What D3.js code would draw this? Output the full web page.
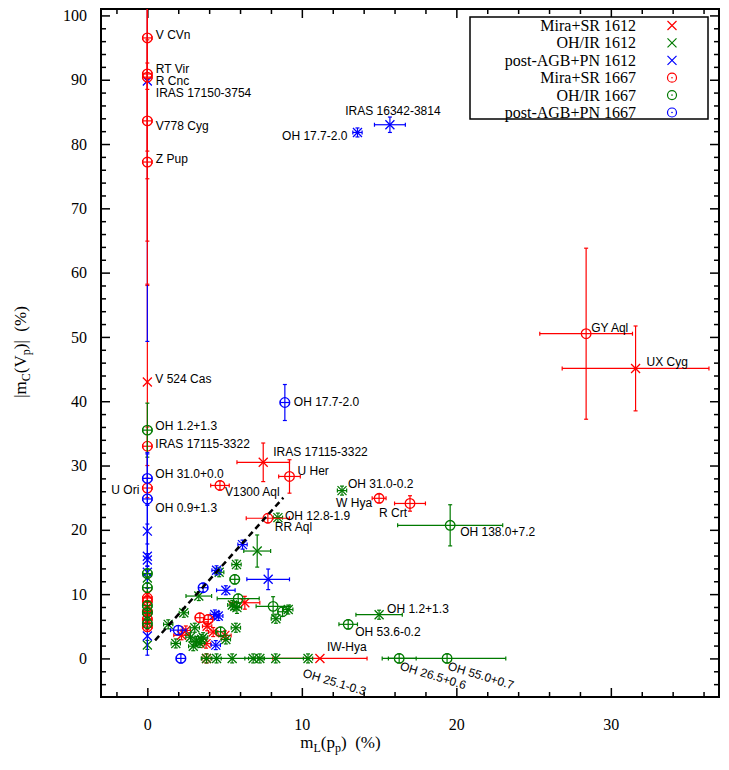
<!DOCTYPE html>
<html>
<head>
<meta charset="utf-8">
<script src="https://cdn.jsdelivr.net/npm/d3@7"></script>
<style>
  body { margin: 0; background: #fff; }
</style>
</head>
<body>
<div id="chart"></div>
<script>
// each row: [x, y, xerr, yerr, label]
const miraSR1612 = [
    [0, 43.0, 0, 15, 'V 524 Cas'],
    [7.5, 30.5, 1.7, 3.0, 'IRAS 17115-3322'],
    [31.6, 45.1, 4.75, 6.6, 'UX Cyg'],
    [11.17, 0, 3.05, 0, 'IW-Hya'],
    [6.31, 8.66, 0.97, 1.0],
    [3.87, 5.0, 0.3, 0.7],
    [2.21, 3.6, 0.5, 0.7],
    [5.02, 3.58, 0.4, 0.7],
    [4.26, 4.1, 0.3, 0.7],
    [3.8, 2.3, 0.3, 0.7],
    [3.83, 0, 0.3, 0.7],
    [2.49, 4.35, 0.3, 0.7],
    [0, 10.0, 0, 1.0],
    [0, 8.0, 0, 1.0],
    [0, 5.5, 0, 1.0]
];

const ohir1612 = [
    [12.6, 26.1, 0.3, 0.7, 'OH 31.0-0.2'],
    [8.45, 21.9, 0.3, 0.7, 'OH 12.8-1.9'],
    [15.0, 6.8, 1.5, 0.7, 'OH 1.2+1.3'],
    [10.4, 0, 0.3, 0.7, 'OH 25.1-0.3'],
    [7.11, 16.7, 0.87, 2.5],
    [5.77, 14.6, 0.3, 0.7],
    [4.65, 13.4, 0.3, 0.7],
    [3.33, 9.7, 0.83, 0.7],
    [5.66, 8.1, 0.3, 0.7],
    [5.8, 7.9, 0.3, 0.9],
    [5.5, 8.3, 0.3, 0.7],
    [9.12, 7.6, 0.3, 0.7],
    [8.32, 6.17, 0.3, 0.7],
    [2.36, 7.1, 0.3, 0.7],
    [1.35, 5.3, 0.3, 0.7],
    [3.07, 4.77, 0.3, 0.7],
    [5.73, 4.77, 0.3, 0.7],
    [5.08, 2.95, 0.3, 0.7],
    [3.18, 2.7, 0.3, 0.7],
    [2.79, 3.3, 0.3, 0.7],
    [3.4, 2.4, 0.3, 0.7],
    [3.61, 3.3, 0.3, 0.7],
    [2.97, 1.9, 0.3, 0.7],
    [3.5, 3.0, 0.3, 0.7],
    [1.84, 2.33, 0.3, 0.7],
    [0, 2.1, 0, 0.7],
    [0, 12.5, 0, 0.7],
    [0, 6.6, 0, 0.7],
    [3.83, 0, 0.3, 0.7],
    [4.48, 0, 0.3, 0.7],
    [5.49, 0, 2.0, 0.7],
    [6.85, 0, 0.3, 0.7],
    [7.28, 0, 0.3, 0.7],
    [8.31, 0, 2.0, 0.7]
];

const postAGB1612 = [
    [0, 89.8, 0, 40.5, 'IRAS 17150-3754'],
    [15.7, 83.0, 1.0, 1.2, 'IRAS 16342-3814'],
    [13.6, 81.8, 0.3, 0.7, 'OH 17.7-2.0'],
    [6.16, 17.7, 0.3, 0.7],
    [7.82, 12.3, 1.38, 1.6],
    [4.48, 13.7, 0.3, 0.7],
    [5.08, 10.6, 0.6, 0.7],
    [4.37, 6.84, 0.3, 0.7],
    [4.59, 6.6, 0.3, 0.7],
    [4.43, 2.07, 0.3, 0.7],
    [0, 19.8, 0, 4.0],
    [0, 15.9, 0, 5.0],
    [0, 15.3, 0, 1.0],
    [0, 13.4, 0, 1.0],
    [0, 3.5, 0, 3.0]
];

const miraSR1667 = [
    [0, 96.5, 0.3, 8, 'V CVn'],
    [0, 90.9, 0.3, 12, 'RT Vir'],
    [0, 90.4, 0.3, 25.5, 'R Cnc'],
    [0, 83.6, 0.3, 9, 'V778 Cyg'],
    [0, 77.2, 0.3, 19, 'Z Pup'],
    [0, 33.0, 0.3, 3, 'IRAS 17115-3322'],
    [0, 26.5, 0.3, 1.5, 'U Ori'],
    [4.7, 26.9, 0.6, 0.7, 'V1300 Aql'],
    [9.2, 28.3, 0.7, 2.6, 'U Her'],
    [28.4, 50.5, 3.0, 13.3, 'GY Aql'],
    [17.0, 24.1, 1.0, 1.2, 'R Crt'],
    [15.0, 24.9, 0.45, 0.7, 'W Hya'],
    [7.8, 21.8, 1.4, 0.7, 'RR Aql'],
    [3.4, 6.33, 0.3, 0.7],
    [3.94, 6.07, 0.3, 0.7],
    [0, 9.4, 0.3, 0.7],
    [0, 8.9, 0.3, 0.7],
    [0, 7.3, 0.3, 0.7],
    [0, 6.1, 0.3, 0.7],
    [0, 4.9, 0.3, 0.7]
];

const ohir1667 = [
    [0, 35.5, 0.3, 4.2, 'OH 1.2+1.3'],
    [19.6, 20.7, 3.4, 3.2, 'OH 138.0+7.2'],
    [13.0, 5.3, 0.6, 0.7, 'OH 53.6-0.2'],
    [16.3, 0, 1.1, 0.7, 'OH 26.5+0.6'],
    [19.4, 0, 3.8, 0.7, 'OH 55.0+0.7'],
    [5.66, 12.3, 0.3, 0.7],
    [5.88, 9.3, 1.36, 0.7],
    [8.14, 8.1, 1.1, 1.5],
    [8.75, 7.26, 0.3, 0.7],
    [4.74, 4.15, 0.3, 0.7],
    [0, 13.2, 0.3, 0.7],
    [0, 11.0, 0.3, 0.7],
    [0, 8.2, 0.3, 0.7],
    [0, 7.1, 0.3, 0.7],
    [0, 5.4, 0.3, 0.7]
];

const postAGB1667 = [
    [8.9, 39.8, 0.3, 2.8, 'OH 17.7-2.0'],
    [0, 28.0, 0.3, 4, 'OH 31.0+0.0'],
    [0, 24.8, 0.3, 7, 'OH 0.9+1.3'],
    [3.61, 11.0, 0.3, 0.7],
    [2.0, 4.4, 0.5, 0.7],
    [2.17, 0, 0.3, 0.7]
];

// dashed guide line
const guideX = [0.5, 8.8];
const guideY = [2.8, 25.0];

const xMajorTicks = [0, 10, 20, 30];
const yMajorTicks = [0, 10, 20, 30, 40, 50, 60, 70, 80, 90, 100];

const series = [
    { key: 'm12', name: 'Mira+SR 1612', data: miraSR1612, color: '#ff0000', shape: 'x' },
    { key: 'o12', name: 'OH/IR 1612', data: ohir1612, color: '#007a00', shape: 'x' },
    { key: 'p12', name: 'post-AGB+PN 1612', data: postAGB1612, color: '#0000ff', shape: 'x' },
    { key: 'm67', name: 'Mira+SR 1667', data: miraSR1667, color: '#ff0000', shape: 'o' },
    { key: 'o67', name: 'OH/IR 1667', data: ohir1667, color: '#007a00', shape: 'o' },
    { key: 'p67', name: 'post-AGB+PN 1667', data: postAGB1667, color: '#0000ff', shape: 'o' }
];

// label placement [dx, dy, anchor, rotation]
const labelPos = {
    'm12|V 524 Cas': [8, 1, 'start', 0],
    'm12|IRAS 17115-3322': [10, -6, 'start', 0],
    'm12|UX Cyg': [11, -2, 'start', 0],
    'm12|IW-Hya': [7, -7, 'start', 0],
    'o12|OH 31.0-0.2': [6, -3, 'start', 0],
    'o12|OH 12.8-1.9': [7, 2, 'start', 0],
    'o12|OH 1.2+1.3': [8, -2, 'start', 0],
    'o12|OH 25.1-0.3': [-6, 18, 'start', 17],
    'p12|IRAS 17150-3754': [8.5, 16, 'start', 0],
    'p12|IRAS 16342-3814': [3, -10, 'middle', 0],
    'p12|OH 17.7-2.0': [-10, 8, 'end', 0],
    'm67|V CVn': [8.5, 1, 'start', 0],
    'm67|RT Vir': [8.5, -1, 'start', 0],
    'm67|R Cnc': [8.5, 8, 'start', 0],
    'm67|V778 Cyg': [8.5, 9, 'start', 0],
    'm67|Z Pup': [8.5, 1, 'start', 0],
    'm67|IRAS 17115-3322': [8, 2, 'start', 0],
    'm67|U Ori': [-8, 6, 'end', 0],
    'm67|V1300 Aql': [5, 11, 'start', 0],
    'm67|U Her': [8, -1, 'start', 0],
    'm67|GY Aql': [5, -2, 'start', 0],
    'm67|R Crt': [-3, 14, 'end', 0],
    'm67|W Hya': [-7, 9, 'end', 0],
    'm67|RR Aql': [7, 13, 'start', 0],
    'o67|OH 1.2+1.3': [8, 0, 'start', 0],
    'o67|OH 138.0+7.2': [10, 11, 'start', 0],
    'o67|OH 53.6-0.2': [7, 12, 'start', 0],
    'o67|OH 26.5+0.6': [0, 11, 'start', 17],
    'o67|OH 55.0+0.7': [0, 11, 'start', 17],
    'p67|OH 17.7-2.0': [9, 3, 'start', 0],
    'p67|OH 31.0+0.0': [8, 0, 'start', 0],
    'p67|OH 0.9+1.3': [8, 13, 'start', 0]
};

const width = 729, height = 770;
const margin = { left: 101, right: 10, top: 9, bottom: 73 };
const plotW = width - margin.left - margin.right;
const plotH = height - margin.top - margin.bottom;

const svg = d3.select('#chart').append('svg')
    .attr('width', width)
    .attr('height', height)
    .style('display', 'block')
    .style('background', '#fff');

const x = d3.scaleLinear().domain([-3, 37]).range([0, plotW]);
const y = d3.scaleLinear().domain([-6, 101]).range([plotH, 0]);

const g = svg.append('g').attr('transform', `translate(${margin.left},${margin.top})`);

svg.append('defs').append('clipPath').attr('id', 'clip')
    .append('rect').attr('width', plotW).attr('height', plotH);

const serif = 'Liberation Serif, Times New Roman, serif';
const sans = 'Liberation Sans, Arial, Helvetica, sans-serif';

// ticks (inside, on all four sides)
const xMinor = d3.range(-2, 37, 2).filter(v => !xMajorTicks.includes(v));
const yMinor = d3.range(-4, 101, 2).filter(v => !yMajorTicks.includes(v));

function tickAxis(axisFn, scale, values, size, labels) {
    const a = axisFn(scale).tickValues(values).tickSize(-size).tickSizeOuter(0);
    if (!labels) a.tickFormat('');
    return a;
}

const xb = g.append('g').attr('transform', `translate(0,${plotH})`);
xb.call(tickAxis(d3.axisBottom, x, xMajorTicks, 9, true).tickPadding(22));
xb.append('g').call(tickAxis(d3.axisBottom, x, xMinor, 5, false));
const xt = g.append('g');
xt.call(tickAxis(d3.axisTop, x, xMajorTicks, 9, false));
xt.append('g').call(tickAxis(d3.axisTop, x, xMinor, 5, false));
const yl = g.append('g');
yl.call(tickAxis(d3.axisLeft, y, yMajorTicks, 9, true).tickPadding(14));
yl.append('g').call(tickAxis(d3.axisLeft, y, yMinor, 5, false));
const yr = g.append('g').attr('transform', `translate(${plotW},0)`);
yr.call(tickAxis(d3.axisRight, y, yMajorTicks, 9, false));
yr.append('g').call(tickAxis(d3.axisRight, y, yMinor, 5, false));

g.selectAll('.domain').remove();
g.selectAll('.tick line').attr('stroke', '#000').attr('stroke-width', 1.5);
g.selectAll('.tick text')
    .style('font-family', serif)
    .style('font-size', '16px')
    .attr('fill', '#000');

// frame
g.append('rect')
    .attr('width', plotW)
    .attr('height', plotH)
    .attr('fill', 'none')
    .attr('stroke', '#000')
    .attr('stroke-width', 2);

const plot = g.append('g').attr('clip-path', 'url(#clip)');

// points with error bars, drawn series by series
const cap = 2;
series.forEach(s => {
    const grp = plot.append('g').attr('class', 'series-' + s.key)
        .attr('stroke', s.color).attr('fill', 'none');
    s.data.forEach(d => {
        const [vx, vy, xe, ye] = d;
        const px = x(vx), py = y(vy);
        if (xe > 0) {
            const x0 = x(vx - xe), x1 = x(vx + xe);
            grp.append('line').attr('x1', x0).attr('x2', x1).attr('y1', py).attr('y2', py).attr('stroke-width', 1.2);
            grp.append('line').attr('x1', x0).attr('x2', x0).attr('y1', py - cap).attr('y2', py + cap).attr('stroke-width', 1.2);
            grp.append('line').attr('x1', x1).attr('x2', x1).attr('y1', py - cap).attr('y2', py + cap).attr('stroke-width', 1.2);
        }
        if (ye > 0) {
            const y0 = y(vy - ye), y1 = y(vy + ye);
            grp.append('line').attr('x1', px).attr('x2', px).attr('y1', y0).attr('y2', y1).attr('stroke-width', 1.2);
            grp.append('line').attr('x1', px - cap).attr('x2', px + cap).attr('y1', y0).attr('y2', y0).attr('stroke-width', 1.2);
            grp.append('line').attr('x1', px - cap).attr('x2', px + cap).attr('y1', y1).attr('y2', y1).attr('stroke-width', 1.2);
        }
        if (s.shape === 'x') {
            const r = 4.5;
            grp.append('path')
                .attr('d', `M${px - r},${py - r}L${px + r},${py + r}M${px - r},${py + r}L${px + r},${py - r}`)
                .attr('stroke-width', 1.3);
        } else {
            grp.append('circle').attr('cx', px).attr('cy', py).attr('r', 4.8).attr('stroke-width', 1.3);
        }
    });
});

// dashed guide line
plot.append('line')
    .attr('x1', x(guideX[0])).attr('y1', y(guideY[0]))
    .attr('x2', x(guideX[1])).attr('y2', y(guideY[1]))
    .attr('stroke', '#000')
    .attr('stroke-width', 2.5)
    .attr('stroke-dasharray', '6,4');

// source labels
const labels = g.append('g')
    .style('font-family', sans)
    .style('font-size', '12px')
    .attr('fill', '#000');
series.forEach(s => {
    s.data.filter(d => d[4]).forEach(d => {
        const pos = labelPos[s.key + '|' + d[4]] || [8, 4, 'start', 0];
        const tx = x(d[0]) + pos[0], ty = y(d[1]) + pos[1];
        labels.append('text')
            .attr('transform', `translate(${tx},${ty}) rotate(${pos[3]})`)
            .attr('text-anchor', pos[2])
            .text(d[4]);
    });
});

// legend
const legend = svg.append('g').attr('transform', 'translate(470,17)');
legend.append('rect')
    .attr('width', 238)
    .attr('height', 102)
    .attr('fill', '#fff')
    .attr('stroke', '#000')
    .attr('stroke-width', 1.5);
series.forEach((s, i) => {
    const ly = 8.5 + i * 17.4;
    legend.append('text')
        .attr('x', 166)
        .attr('y', ly + 5.5)
        .attr('text-anchor', 'end')
        .style('font-family', serif)
        .style('font-size', '16px')
        .attr('fill', '#000')
        .text(s.name);
    if (s.shape === 'x') {
        const r = 4.5, cx = 202;
        legend.append('path')
            .attr('d', `M${cx - r},${ly - r}L${cx + r},${ly + r}M${cx - r},${ly + r}L${cx + r},${ly - r}`)
            .attr('stroke', s.color).attr('stroke-width', 1.2).attr('fill', 'none');
    } else {
        legend.append('circle').attr('cx', 202).attr('cy', ly).attr('r', 4.5)
            .attr('stroke', s.color).attr('stroke-width', 1.2).attr('fill', 'none');
        legend.append('circle').attr('cx', 202).attr('cy', ly).attr('r', 0.8).attr('fill', s.color);
    }
});

// axis titles
const xTitle = svg.append('text')
    .attr('x', margin.left + x(12.5))
    .attr('y', 748)
    .attr('text-anchor', 'middle')
    .style('font-family', serif)
    .style('font-size', '17px')
    .attr('fill', '#000');
xTitle.append('tspan').text('m');
xTitle.append('tspan').attr('dy', 4).style('font-size', '12px').text('L');
xTitle.append('tspan').attr('dy', -4).text('(p');
xTitle.append('tspan').attr('dy', 4).style('font-size', '12px').text('p');
xTitle.append('tspan').attr('dy', -4).text(')\u00a0\u00a0(%)');

const yTitle = svg.append('text')
    .attr('transform', 'translate(26,352) rotate(-90)')
    .attr('text-anchor', 'middle')
    .style('font-family', serif)
    .style('font-size', '17px')
    .attr('fill', '#000');
yTitle.append('tspan').text('|m');
yTitle.append('tspan').attr('dy', 4).style('font-size', '12px').text('C');
yTitle.append('tspan').attr('dy', -4).text('(V');
yTitle.append('tspan').attr('dy', 4).style('font-size', '12px').text('p');
yTitle.append('tspan').attr('dy', -4).text(')|\u00a0\u00a0(%)');
</script>
</body>
</html>
